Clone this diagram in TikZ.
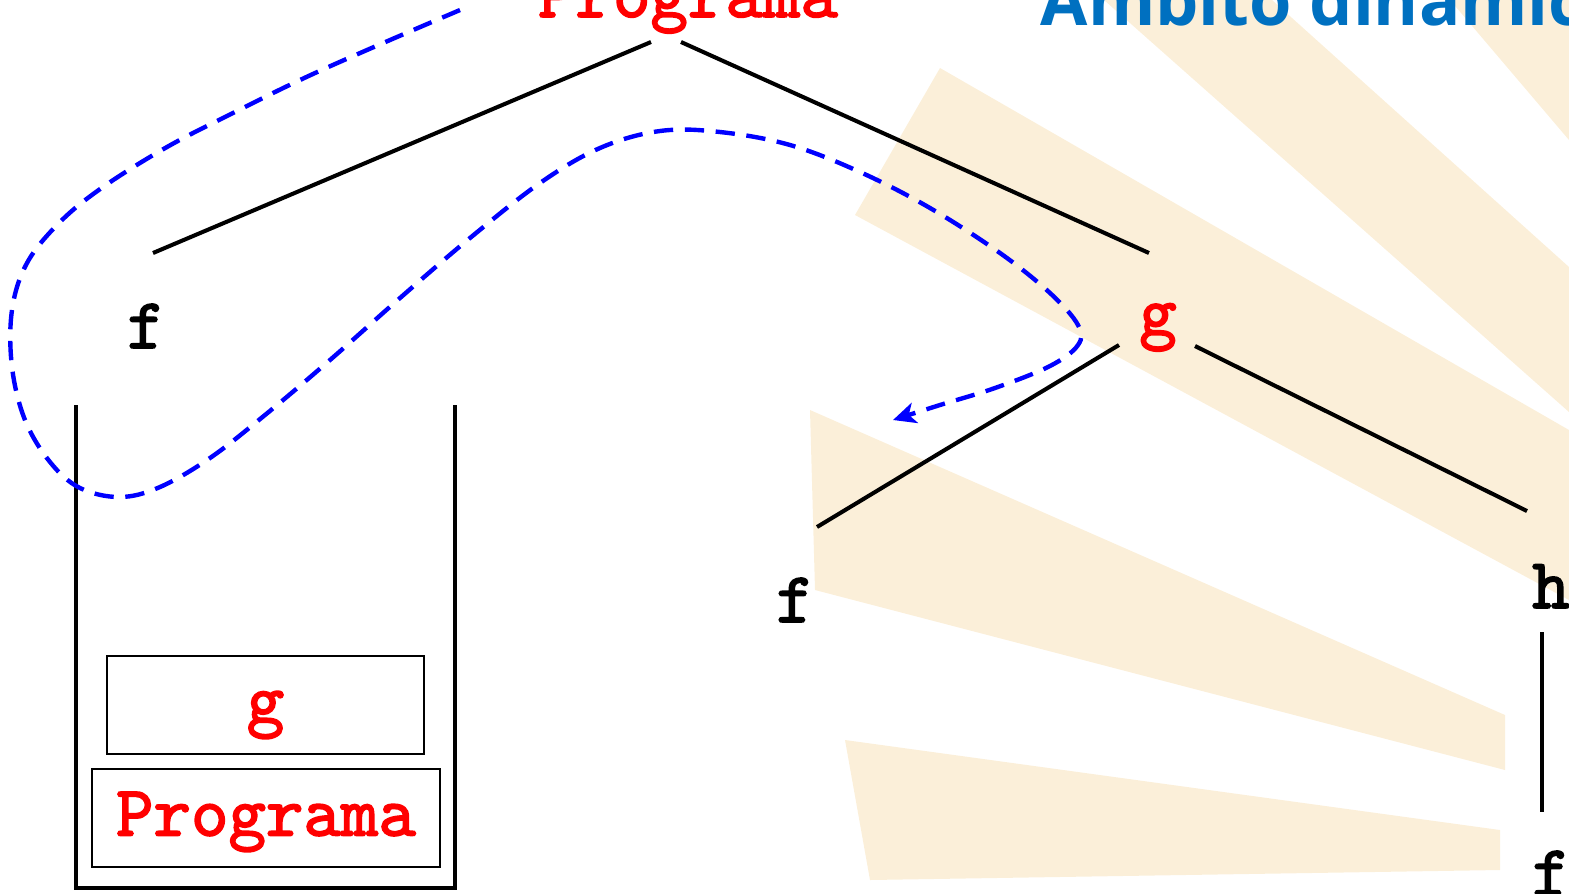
\documentclass[tikz,border=0pt]{standalone}
\usepackage{fontspec}
\newfontfamily\titlefont{Open Sans}
\newfontfamily\codefont[FakeBold=2.2]{lmmono10-regular.otf}
\usetikzlibrary{arrows.meta,calc}

\definecolor{titleblue}{RGB}{0,112,192}
\definecolor{raycolor}{RGB}{251,239,217}

\tikzset{
  lbl/.style={font=\codefont\bfseries\fontsize{20.3}{22}\selectfont, inner sep=0pt, anchor=base},
  edge/.style={black, line width=1.15pt},
  wall/.style={black, line width=1.3pt},
  stackbox/.style={draw, line width=0.5pt, inner sep=0pt, minimum height=0.98cm,
    text height=10pt, text depth=0pt, text=red,
    font=\codefont\bfseries\fontsize{20.3}{22}\selectfont},
  trace/.style={blue, line width=1.25pt, dash pattern=on 5.5pt off 3.3pt,
    -{Stealth[length=6.5pt, width=6pt, inset=1.8pt]}}
}

\begin{document}
\begin{tikzpicture}[x=0.01cm, y=-0.01cm]
\useasboundingbox (0,0) rectangle (1569,893);
\clip (0,0) rectangle (1569,893);

% Background rays
\fill[raycolor] (845,740) -- (870,880) -- (1500,870) -- (1500,830) -- cycle;
\fill[raycolor] (810,410) -- (815,590) -- (1505,770) -- (1505,715) -- cycle;
\fill[raycolor] (940,68) -- (855,215) -- (1569,600) -- (1569,430) -- cycle;
\fill[raycolor] (1104,0) -- (1569,412) -- (1569,267) -- (1272,0) -- cycle;
\fill[raycolor] (1450,0) -- (1569,140) -- (1569,0) -- cycle;

% Title
\node[font=\titlefont\bfseries\fontsize{19.5}{22}\selectfont, text=titleblue,
  anchor=base west, inner sep=0pt] (title) at (1040,25) {Ámbito dinámico};

% Tree
\node[lbl, red] (prog) at (688,17) {Programa};
\node[lbl] (f1) at (146,348) {f};
\node[lbl, red] (g1) at (1158,335) {g};
\node[lbl] (f2) at (795,622) {f};
\node[lbl] (h1) at (1551,608) {h};
\node[lbl] (f3) at (1551,895) {f};

\draw[edge] ($(prog.base)+(-37,25)$) -- ($(f1.base)+(7,-95)$);
\draw[edge] ($(prog.base)+(-7,25)$) -- ($(g1.base)+(-9,-82)$);
\draw[edge] ($(g1.base)+(-39,10)$) -- ($(f2.base)+(22,-95)$);
\draw[edge] ($(g1.base)+(37,11)$) -- ($(h1.base)+(-24,-97)$);
\draw[edge] ($(h1.base)+(-9,24)$) -- ($(f3.base)+(-9,-83)$);

% Stack
\draw[wall] (76,405) -- (76,888) -- (455,888) -- (455,405);
\node[stackbox, minimum width=3.17cm] (sg) at (265.5,705) {g};
\node[stackbox, minimum width=3.48cm] (sprog) at (266,818) {Programa};

% Dynamic link trace
\draw[trace] plot[smooth, tension=0.6] coordinates {
  (460,10) (367,50) (300,80) (233,113) (167,147) (103,187) (60,222) (27,263)
  (12,310) (12,367) (25,420) (50,462) (80,488) (120,497) (160,487) (210,458)
  (265,415) (330,360) (400,298) (470,238) (540,183) (600,148) (660,131)
  (720,132) (790,145) (860,172) (930,208) (1000,253) (1050,293) (1078,325)
  (1078,345) (1050,366) (995,388) (940,405) (893,420)};

\end{tikzpicture}
\end{document}
